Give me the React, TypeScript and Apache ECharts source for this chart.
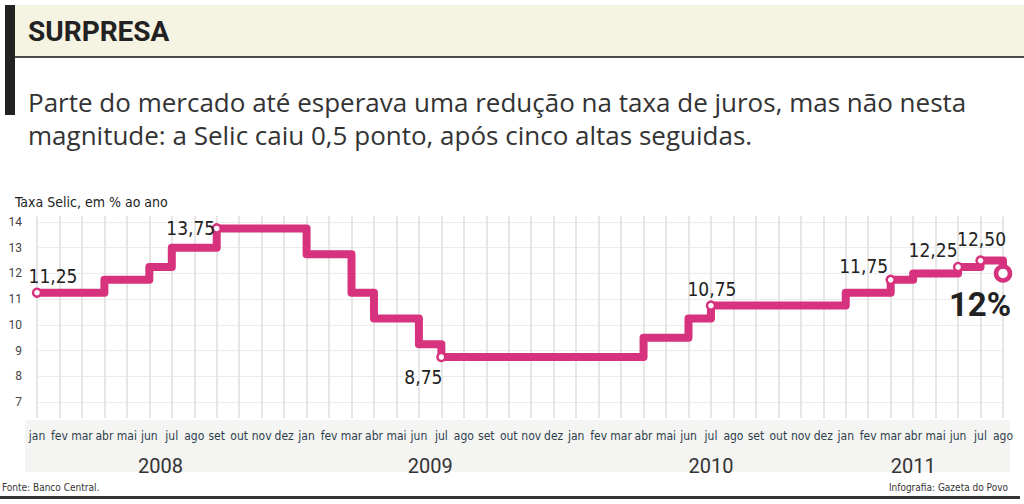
import React, { useEffect, useRef } from "react";
import * as echarts from "echarts";

const monthNames = ["jan", "fev", "mar", "abr", "mai", "jun", "jul", "ago", "set", "out", "nov", "dez"];
const months: string[] = [
  ...monthNames, // 2008
  ...monthNames, // 2009
  ...monthNames, // 2010
  ...monthNames.slice(0, 8), // 2011
];

const selic2008 = [11.25, 11.25, 11.25, 11.75, 11.75, 12.25, 13.0, 13.0, 13.75, 13.75, 13.75, 13.75];
const selic2009 = [12.75, 12.75, 11.25, 10.25, 10.25, 9.25, 8.75, 8.75, 8.75, 8.75, 8.75, 8.75];
const selic2010 = [8.75, 8.75, 8.75, 9.5, 9.5, 10.25, 10.75, 10.75, 10.75, 10.75, 10.75, 10.75];
const selic2011 = [11.25, 11.25, 11.75, 12.0, 12.0, 12.25, 12.5, 12.0];
const selic = [...selic2008, ...selic2009, ...selic2010, ...selic2011];

const years = ["2008", "2009", "2010", "2011"];
const yearCenters = [5.5, 17.5, 30, 39]; // month index where year label sits

const yTicks = [7, 8, 9, 10, 11, 12, 13, 14];

// highlighted points (month index) and their label text
const highlighted = [0, 8, 18, 30, 38, 41, 42];
const finalLabel = "12%";

const PINK = "#d7327d";

// label placement styles (offset from point)
const labelOffsets: Record<number, [number, number]> = {
  0: [16, -17],
  8: [-26, 0],
  18: [-18, 20],
  30: [1, -17],
  38: [-27, -14],
  41: [-25, -17],
  42: [1, -22],
};

const LABEL_FONT = "'DejaVu Sans Condensed', Roboto, sans-serif";

const fmt = (v: number) => v.toFixed(2).replace(".", ",");

export default function App() {
  const ref = useRef<HTMLDivElement>(null);

  useEffect(() => {
    if (!ref.current) return;
    const chart = echarts.init(ref.current, undefined, { renderer: "svg" });
    const last = selic.length - 1;

    const seriesData = selic.map((v, i) => {
      if (i === last) {
        return {
          value: v,
          symbol: "circle",
          symbolSize: 14,
          itemStyle: { color: "#fff", borderColor: PINK, borderWidth: 4.5 },
          label: {
            show: true,
            position: "inside",
            offset: [-23, 31],
            formatter: finalLabel,
            fontFamily: "Roboto",
            fontWeight: "bold",
            fontSize: 33,
            color: "#222",
          },
        };
      }
      if (highlighted.includes(i)) {
        return {
          value: v,
          symbol: "circle",
          symbolSize: 8,
          itemStyle: { color: "#fff", borderColor: PINK, borderWidth: 2.5 },
          label: {
            show: true,
            position: "inside",
            offset: labelOffsets[i],
            formatter: fmt(v),
            fontFamily: LABEL_FONT,
            fontSize: 19,
            color: "#222",
          },
        };
      }
      return { value: v, symbol: "none" };
    });

    const yearLabelMap: Record<string, string> = {};
    yearCenters.forEach((c, i) => (yearLabelMap[String(c)] = years[i]));

    chart.setOption({
      animation: false,
      backgroundColor: "#fff",
      grid: [
        { left: 37, right: 21, top: 222, bottom: 102 },
        { left: 37, right: 21, top: 216, bottom: 86 },
      ],
      xAxis: [
        {
          type: "category",
          gridIndex: 0,
          data: months,
          boundaryGap: false,
          axisLine: { show: false },
          axisTick: { show: false },
          axisLabel: { show: false },
          splitLine: { show: false },
        },
        {
          type: "category",
          gridIndex: 1,
          data: months,
          boundaryGap: false,
          axisLine: { show: false },
          axisTick: { show: false },
          axisLabel: {
            interval: 0,
            margin: 12,
            fontSize: 12,
            fontFamily: LABEL_FONT,
            color: "#2e3f4c",
          },
          splitLine: { show: true, interval: 0, lineStyle: { color: "#e6e6e6", width: 2 } },
        },
        {
          type: "value",
          gridIndex: 1,
          position: "bottom",
          offset: 26,
          min: 0,
          max: months.length - 1,
          interval: 0.5,
          axisLine: { show: false },
          axisTick: { show: false },
          splitLine: { show: false },
          axisLabel: {
            margin: 12,
            fontSize: 20,
            fontFamily: "Roboto, sans-serif",
            color: "#333",
            formatter: (v: number) => yearLabelMap[String(v)] || "",
          },
        },
      ],
      yAxis: [
        {
          type: "value",
          gridIndex: 0,
          min: yTicks[0],
          max: yTicks[yTicks.length - 1],
          interval: 1,
          axisLine: { show: false },
          axisTick: { show: false },
          axisLabel: {
            margin: 15,
            fontSize: 12,
            fontFamily: "Roboto, sans-serif",
            color: "#444",
          },
          splitLine: { show: true, lineStyle: { color: "#ececec", width: 1 } },
        },
        {
          type: "value",
          gridIndex: 1,
          show: false,
          min: 0,
          max: 1,
          splitLine: { show: false },
        },
      ],
      graphic: [
        // title band
        { type: "rect", z: -10, shape: { x: 15, y: 5, width: 1009, height: 52 }, style: { fill: "#f5f3e2" } },
        { type: "rect", z: -9, shape: { x: 15, y: 56, width: 1009, height: 2 }, style: { fill: "#4a4a4a" } },
        { type: "rect", z: -9, shape: { x: 5, y: 5, width: 10, height: 110 }, style: { fill: "#222" } },
        {
          type: "text",
          x: 28,
          y: 31,
          style: {
            text: "SURPRESA",
            fontFamily: "Roboto, sans-serif",
            fontWeight: "bold",
            fontSize: 28,
            fill: "#222",
            textVerticalAlign: "middle",
          },
        },
        {
          type: "text",
          x: 28,
          y: 102,
          style: {
            text: "Parte do mercado até esperava uma redução na taxa de juros, mas não nesta",
            fontFamily: "'Open Sans', sans-serif",
            fontSize: 26,
            fill: "#333",
            textVerticalAlign: "middle",
          },
        },
        {
          type: "text",
          x: 28,
          y: 135,
          style: {
            text: "magnitude: a Selic caiu 0,5 ponto, após cinco altas seguidas.",
            fontFamily: "'Open Sans', sans-serif",
            fontSize: 26,
            fill: "#333",
            textVerticalAlign: "middle",
          },
        },
        {
          type: "text",
          x: 15,
          y: 202,
          style: {
            text: "Taxa Selic, em % ao ano",
            fontFamily: LABEL_FONT,
            fontSize: 14,
            fill: "#222",
            textVerticalAlign: "middle",
          },
        },
        // month label band
        { type: "rect", z: -10, shape: { x: 25, y: 420, width: 985, height: 52 }, style: { fill: "#f4f4f2" } },
        {
          type: "text",
          x: 2,
          y: 487,
          style: {
            text: "Fonte: Banco Central.",
            fontFamily: LABEL_FONT,
            fontSize: 10,
            fill: "#333",
            textVerticalAlign: "middle",
          },
        },
        {
          type: "text",
          x: 1008,
          y: 487,
          style: {
            text: "Infografia: Gazeta do Povo",
            fontFamily: LABEL_FONT,
            fontSize: 10,
            fill: "#333",
            textAlign: "right",
            textVerticalAlign: "middle",
          },
        },
        { type: "rect", z: -9, shape: { x: 0, y: 496, width: 1020, height: 3 }, style: { fill: "#333" } },
      ],
      series: [
        {
          type: "line",
          xAxisIndex: 0,
          yAxisIndex: 0,
          step: "end",
          data: seriesData,
          showSymbol: true,
          lineStyle: { color: PINK, width: 8, join: "round" },
          itemStyle: { color: PINK },
          z: 5,
        },
      ],
    });

    return () => chart.dispose();
  }, []);

  return (
    <div
      ref={ref}
      style={{ position: "fixed", left: 0, top: 0, width: 1024, height: 504 }}
    />
  );
}
